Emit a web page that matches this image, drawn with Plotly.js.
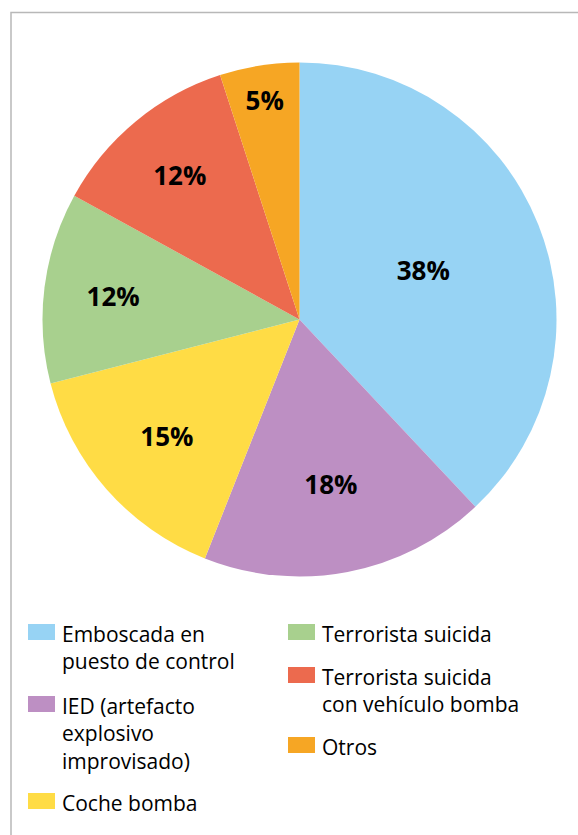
<!DOCTYPE html>
<html><head><meta charset="utf-8">
<script src="https://cdn.plot.ly/plotly-3.0.1.min.js"></script>
<style>html,body{margin:0;padding:0;background:#fff}</style>
</head><body><div id="chart" style="width:578px;height:835px"></div>
<script>
const categories = ["Emboscada en<br>puesto de control","IED (artefacto<br>explosivo<br>improvisado)","Coche bomba","Terrorista suicida","Terrorista suicida<br>con vehículo bomba","Otros"];
const values = [38, 18, 15, 12, 12, 5];
const colors = ["#97d3f4","#bd8fc3","#ffdc45","#a8d08e","#ec6a4e","#f6a624"];
// legend layout: column and top pixel of swatch
const legendCol = [0, 0, 0, 1, 1, 1];
const legendTop = [624, 696, 793, 624, 667, 737];

const W = 578, H = 835;
const colX = [28, 288];
const shapes = [{type:'rect', xref:'paper', yref:'paper', x0:11/W, x1:1.2, y0:-0.2, y1:1-12.5/H,
  line:{color:'#b8b8b8', width:1.5}, fillcolor:'rgba(0,0,0,0)'}];
const annotations = [];
categories.forEach((c,i)=>{
  const x = colX[legendCol[i]], t = legendTop[i];
  shapes.push({type:'rect', xref:'paper', yref:'paper', x0:x/W, x1:(x+27)/W, y0:1-(t+16)/H, y1:1-t/H,
    line:{width:0}, fillcolor:colors[i]});
  annotations.push({xref:'paper', yref:'paper', x:(x+32)/W, y:1-(t-6)/H, xanchor:'left', yanchor:'top',
    align:'left', showarrow:false, text:c, font:{family:'Open Sans', size:21, color:'#000'}});
});

const trace = {type:'pie', values: values, labels: categories, sort:false, direction:'clockwise', rotation:0,
  marker:{colors: colors, line:{width:0}}, textinfo:'percent', textposition:'inside', insidetextorientation:'horizontal',
  textfont:{family:'Open Sans', size:26, color:'#000', weight:'bold'},
  domain:{x:[(299.5-257)/W,(299.5+257)/W], y:[258.5/H, 772.5/H]}, hoverinfo:'none'};

Plotly.newPlot('chart',[trace],{width:W,height:H,margin:{l:0,r:0,t:0,b:0},showlegend:false,
  paper_bgcolor:'#fff', shapes:shapes, annotations:annotations},{staticPlot:true});
</script></body></html>
